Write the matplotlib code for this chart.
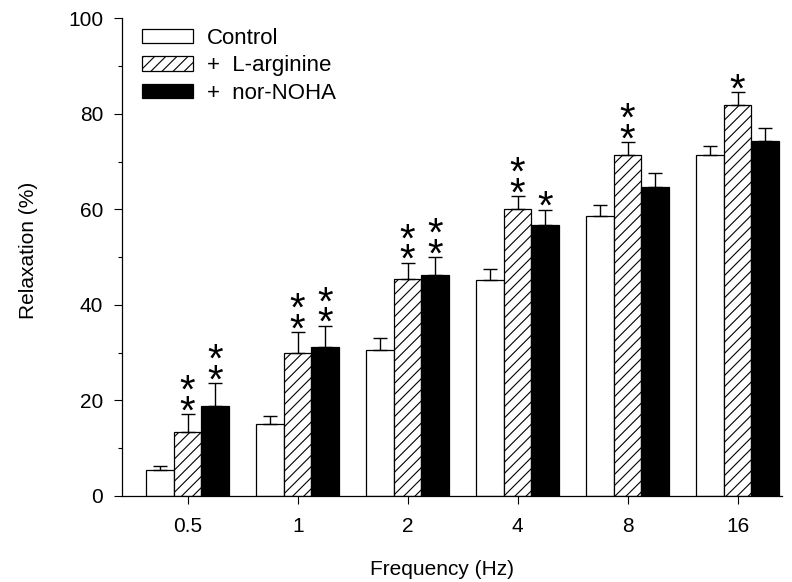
import matplotlib
matplotlib.use('Agg')
import matplotlib.pyplot as plt
import numpy as np

plt.rcParams['font.family'] = ['Liberation Sans', 'DejaVu Sans']
plt.rcParams['hatch.linewidth'] = 0.8
plt.rcParams['hatch.color'] = 'black'

freqs = ['0.5', '1', '2', '4', '8', '16']
control = [5.4, 15.1, 30.5, 45.1, 58.6, 71.5]
control_err = [0.9, 1.7, 2.5, 2.5, 2.4, 1.8]
larginine = [13.3, 30.0, 45.5, 60.0, 71.4, 81.8]
larginine_err = [3.8, 4.2, 3.3, 2.8, 2.7, 2.8]
nornoha = [18.7, 31.2, 46.2, 56.7, 64.6, 74.3]
nornoha_err = [4.9, 4.4, 3.8, 3.2, 3.0, 2.8]
# number of asterisks above each bar
larginine_stars = [2, 2, 2, 2, 2, 1]
nornoha_stars = [2, 2, 2, 1, 0, 0]

fig = plt.figure(figsize=(7.92, 5.82), dpi=100)
ax = fig.add_axes([121.7 / 792, 1 - 495.7 / 582, (782 - 121.7) / 792, (495.7 - 18.5) / 582])

x = np.arange(len(freqs))
w = 0.25
ekw = dict(ecolor='black', elinewidth=1.0, capsize=5, capthick=1.0)
zeros = np.zeros(len(freqs))

ax.bar(x - w, control, w, yerr=[zeros, control_err], color='white', edgecolor='black',
       linewidth=0.9, error_kw=ekw, label='Control')
ax.bar(x, larginine, w, yerr=[zeros, larginine_err], color='white', edgecolor='black',
       linewidth=0.9, hatch='///', error_kw=ekw, label='+  L-arginine')
ax.bar(x + w, nornoha, w, yerr=[zeros, nornoha_err], color='black', edgecolor='black',
       linewidth=0.9, error_kw=ekw, label='+  nor-NOHA')

def add_stars(xpos, vals, errs, counts):
    for xi, v, e, n in zip(xpos, vals, errs, counts):
        if n == 0:
            continue
        ax.annotate('\n'.join(['*'] * n), xy=(xi, v + e), xytext=(0, -6.6),
                    textcoords='offset points', ha='center', va='baseline',
                    fontsize=29, linespacing=0.42, multialignment='center')

add_stars(x, larginine, larginine_err, larginine_stars)
add_stars(x + w, nornoha, nornoha_err, nornoha_stars)

ax.set_xlim(-0.6, 5.403)
ax.set_ylim(0, 100)
ax.set_xticks(x)
ax.set_xticklabels(freqs)
ax.set_yticks(np.arange(0, 101, 20))
ax.set_yticks(np.arange(10, 100, 20), minor=True)

for s in ['top', 'right']:
    ax.spines[s].set_visible(False)
for s in ['left', 'bottom']:
    ax.spines[s].set_linewidth(0.9)

ax.tick_params(axis='y', which='major', length=5.8, width=0.8, labelsize=15, pad=7.5)
ax.tick_params(axis='y', which='minor', length=3.2, width=0.8)
ax.tick_params(axis='x', which='major', length=5.5, width=0.8, labelsize=15, pad=10)

ax.set_xlabel('Frequency (Hz)', fontsize=15)
ax.set_ylabel('Relaxation (%)', fontsize=15)
ax.xaxis.set_label_coords(0.485, -0.134)
ax.yaxis.set_label_coords(-0.127, 0.515)

ax.legend(loc='upper left', bbox_to_anchor=(141.7 / 792, 1 - 28 / 582),
          bbox_transform=fig.transFigure, frameon=False, fontsize=16,
          handlelength=2.3, handleheight=0.63, handletextpad=0.63,
          labelspacing=0.29, borderpad=0, borderaxespad=0)

fig.savefig('out.png', dpi=100)
